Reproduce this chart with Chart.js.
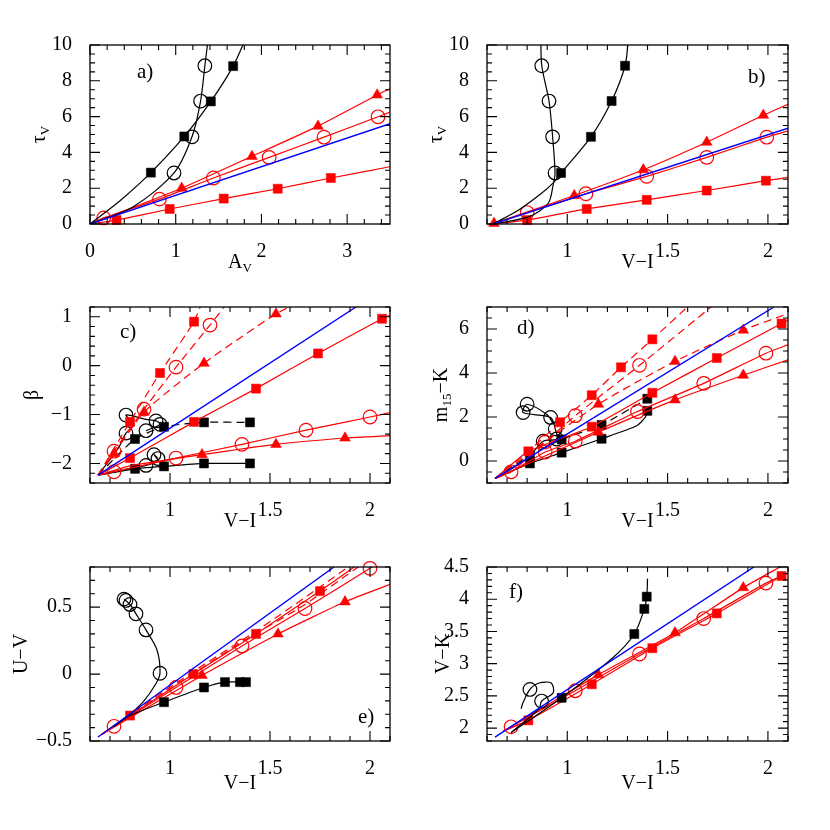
<!DOCTYPE html>
<html>
<head>
<meta charset="utf-8">
<script src="https://cdn.jsdelivr.net/npm/chart.js@4.4.1/dist/chart.umd.min.js"></script>
<style>
  html, body { margin: 0; padding: 0; background: #fff; }
  #wrap { position: relative; width: 830px; height: 830px; }
  canvas { position: absolute; }
</style>
</head>
<body>
<div id="wrap"></div>
<script>
const RED = '#ff0000', BLK = '#000000', BLU = '#0000ff';
const FONT = '"Liberation Serif", "Times New Roman", serif';

/* ---------- tick labels ---------- */
const avTicks = [0, 1, 2, 3];
const tauTicks = [0, 2, 4, 6, 8, 10];
const viTicks = [1, 1.5, 2];
const betaTicks = [-2, -1, 0, 1];
const m15Ticks = [0, 2, 4, 6];
const uvTicks = [-0.5, 0, 0.5];
const vkTicks = [2, 2.5, 3, 3.5, 4, 4.5];

/* ---------- a) tau_V vs A_V ---------- */
const aBlue = [[0, 0], [3.5, 5.6]];
const aBlkSqLine = [[0, 0], [0.35, 1.3], [0.71, 2.87], [1.10, 4.89], [1.41, 6.85], [1.67, 8.82], [1.82, 10.4]];
const aBlkSq = [[0.71, 2.87], [1.10, 4.89], [1.41, 6.85], [1.67, 8.82]];
const aBlkCiLine = [[0, 0], [0.5, 0.95], [0.98, 2.85], [1.19, 4.87], [1.29, 6.87], [1.34, 8.84], [1.38, 10.4]];
const aBlkCi = [[0.98, 2.85], [1.19, 4.87], [1.29, 6.87], [1.34, 8.84]];
const aRedTrLine = [[0, 0], [1.07, 2.0], [1.89, 3.78], [2.66, 5.47], [3.35, 7.21], [3.5, 7.55]];
const aRedTr = [[1.07, 2.0], [1.89, 3.78], [2.66, 5.47], [3.35, 7.21]];
const aRedCiLine = [[0, 0], [0.16, 0.34], [0.81, 1.39], [1.44, 2.57], [2.09, 3.72], [2.73, 4.85], [3.36, 5.99], [3.5, 6.25]];
const aRedCi = [[0.16, 0.34], [0.81, 1.39], [1.44, 2.57], [2.09, 3.72], [2.73, 4.85], [3.36, 5.99]];
const aRedSqLine = [[0, 0], [0.31, 0.22], [0.93, 0.84], [1.56, 1.42], [2.19, 1.97], [2.81, 2.57], [3.5, 3.2]];
const aRedSq = [[0.31, 0.22], [0.93, 0.84], [1.56, 1.42], [2.19, 1.97], [2.81, 2.57]];

/* ---------- b) tau_V vs V-I ---------- */
const bBlue = [[0.63, 0], [2.1, 5.35]];
const bBlkCiLine = [[0.63, 0], [0.81, 0.41], [0.905, 1.16], [0.93, 2.2], [0.939, 2.85], [0.927, 4.87], [0.909, 6.87], [0.873, 8.84], [0.868, 10.4]];
const bBlkCi = [[0.939, 2.85], [0.927, 4.87], [0.909, 6.87], [0.873, 8.84]];
const bBlkSqLine = [[0.63, 0], [0.76, 0.8], [0.87, 1.7], [0.93, 2.3], [0.969, 2.85], [1.118, 4.87], [1.221, 6.87], [1.288, 8.84], [1.305, 10.4]];
const bBlkSq = [[0.969, 2.85], [1.118, 4.87], [1.221, 6.87], [1.288, 8.84]];
const bRedTrLine = [[0.635, 0.04], [1.035, 1.59], [1.379, 3.03], [1.695, 4.57], [1.977, 6.08], [2.1, 6.69]];
const bRedTr = [[0.635, 0.04], [1.035, 1.59], [1.379, 3.03], [1.695, 4.57], [1.977, 6.08]];
const bRedCiLine = [[0.63, 0], [0.80, 0.64], [1.093, 1.69], [1.396, 2.66], [1.695, 3.72], [1.994, 4.85], [2.1, 5.2]];
const bRedCi = [[0.80, 0.64], [1.093, 1.69], [1.396, 2.66], [1.695, 3.72], [1.994, 4.85]];
const bRedSqLine = [[0.63, 0], [0.80, 0.22], [1.097, 0.84], [1.396, 1.35], [1.695, 1.87], [1.99, 2.42], [2.1, 2.6]];
const bRedSq = [[0.80, 0.22], [1.097, 0.84], [1.396, 1.35], [1.695, 1.87], [1.99, 2.42]];

/* ---------- c) beta vs V-I ---------- */
const cBlue = [[0.64, -2.24], [1.93, 1.2]];
const cRedSqLine = [[0.64, -2.24], [0.80, -1.89], [1.12, -1.15], [1.43, -0.47], [1.74, 0.25], [2.06, 0.96], [2.1, 1.03]];
const cRedSq = [[0.80, -1.89], [1.12, -1.15], [1.43, -0.47], [1.74, 0.25], [2.06, 0.96]];
const cRedCiLine = [[0.64, -2.24], [0.72, -2.17], [1.03, -1.89], [1.36, -1.61], [1.68, -1.32], [2.0, -1.05], [2.1, -0.96]];
const cRedCi = [[0.72, -2.17], [1.03, -1.89], [1.36, -1.61], [1.68, -1.32], [2.0, -1.05]];
const cRedTrLine = [[0.64, -2.24], [0.8, -2.05], [1.16, -1.82], [1.53, -1.61], [1.875, -1.48], [2.1, -1.43]];
const cRedTr = [[1.16, -1.82], [1.53, -1.61], [1.875, -1.48]];
const cRedSqDashLine = [[0.64, -2.24], [0.80, -1.15], [0.95, -0.15], [1.12, 0.9], [1.16, 1.3]];
const cRedSqDash = [[0.80, -1.15], [0.95, -0.15], [1.12, 0.9]];
const cRedCiDashLine = [[0.64, -2.24], [0.72, -1.75], [0.87, -0.89], [1.03, -0.03], [1.2, 0.83], [1.29, 1.3]];
const cRedCiDash = [[0.72, -1.75], [0.87, -0.89], [1.03, -0.03], [1.2, 0.83]];
const cRedTrDashLine = [[0.64, -2.24], [0.72, -1.8], [0.87, -0.95], [1.17, 0.05], [1.53, 1.06], [1.65, 1.3]];
const cRedTrDash = [[0.72, -1.8], [0.87, -0.95], [1.17, 0.05], [1.53, 1.06]];
const cBlkSqLine = [[0.64, -2.24], [0.825, -2.11], [0.97, -2.06], [1.17, -2.0], [1.40, -2.0]];
const cBlkSq = [[0.825, -2.11], [0.97, -2.06], [1.17, -2.0], [1.40, -2.0]];
const cBlkSqDashLine = [[0.64, -2.24], [0.825, -1.5], [0.97, -1.25], [1.17, -1.16], [1.40, -1.16]];
const cBlkSqDash = [[0.825, -1.5], [0.97, -1.25], [1.17, -1.16], [1.40, -1.16]];
const cBlkCiLine = [[0.64, -2.24], [0.8, -2.1], [0.88, -2.04], [0.94, -1.95], [0.92, -1.82], [0.94, -1.9]];
const cBlkCi = [[0.88, -2.04], [0.92, -1.82], [0.94, -1.9]];
const cBlkCi2Line = [[0.64, -2.24], [0.74, -1.7], [0.78, -1.38], [0.82, -1.2], [0.78, -1.01], [0.88, -1.1], [0.93, -1.13], [0.95, -1.2], [0.88, -1.33]];
const cBlkCi2 = [[0.78, -1.38], [0.78, -1.01], [0.93, -1.13], [0.95, -1.2], [0.88, -1.33]];

/* ---------- d) m15-K vs V-I ---------- */
const dBlue = [[0.64, -0.79], [2.03, 7.0]];
const dRedSqLine = [[0.64, -0.79], [0.806, 0.44], [1.122, 1.56], [1.424, 3.10], [1.745, 4.68], [2.068, 6.25], [2.1, 6.4]];
const dRedSq = [[0.806, 0.44], [1.122, 1.56], [1.424, 3.10], [1.745, 4.68], [2.068, 6.25]];
const dRedSqDashLine = [[0.64, -0.79], [0.806, 0.44], [0.964, 1.76], [1.122, 2.99], [1.268, 4.26], [1.424, 5.53], [1.61, 7.1]];
const dRedSqDash = [[0.964, 1.76], [1.122, 2.99], [1.268, 4.26], [1.424, 5.53]];
const dRedCiLine = [[0.64, -0.79], [0.72, -0.49], [0.89, 0.41], [1.04, 0.90], [1.35, 2.25], [1.68, 3.53], [1.99, 4.90], [2.1, 5.28]];
const dRedCi = [[0.72, -0.49], [0.89, 0.41], [1.04, 0.90], [1.35, 2.25], [1.68, 3.53], [1.99, 4.90]];
const dRedCiDashLine = [[0.64, -0.79], [0.72, -0.49], [0.89, 0.86], [1.04, 2.06], [1.36, 4.35], [1.73, 7.1]];
const dRedCiDash = [[0.89, 0.86], [1.04, 2.06], [1.36, 4.35]];
const dRedTrLine = [[0.64, -0.79], [1.155, 1.31], [1.537, 2.78], [1.877, 3.90], [2.1, 4.6]];
const dRedTr = [[1.155, 1.31], [1.537, 2.78], [1.877, 3.90]];
const dRedTrDashLine = [[0.64, -0.79], [1.155, 2.58], [1.537, 4.53], [1.877, 5.95], [2.1, 6.7]];
const dRedTrDash = [[1.155, 2.58], [1.537, 4.53], [1.877, 5.95]];
const dBlkSqLine = [[0.64, -0.79], [0.814, -0.11], [0.972, 0.38], [1.171, 1.01], [1.346, 1.6], [1.39, 2.0], [1.399, 2.28]];
const dBlkSq = [[0.814, -0.11], [0.972, 0.38], [1.171, 1.01], [1.399, 2.28]];
const dBlkSqDashLine = [[0.64, -0.79], [0.814, 0.26], [0.972, 0.98], [1.171, 1.64], [1.399, 2.83]];
const dBlkSqDash = [[0.814, 0.26], [0.972, 0.98], [1.171, 1.64], [1.399, 2.83]];
const dBlkCiLine = [[0.64, -0.79], [0.8, 0.1], [0.88, 0.9], [0.947, 1.0], [0.94, 1.46], [0.917, 1.98], [0.78, 2.2], [0.80, 2.58], [0.9, 2.1], [0.93, 1.7]];
const dBlkCi = [[0.88, 0.9], [0.947, 1.0], [0.94, 1.46], [0.917, 1.98], [0.78, 2.2], [0.80, 2.58]];

/* ---------- e) U-V vs V-I ---------- */
const eBlue = [[0.64, -0.47], [1.82, 0.8]];
const eBlkCiLine = [[0.72, -0.39], [0.8, -0.3], [0.87, -0.2], [0.93, -0.07], [0.95, 0.006], [0.935, 0.18], [0.88, 0.33], [0.83, 0.45], [0.80, 0.52], [0.77, 0.56]];
const eBlkCi = [[0.95, 0.006], [0.88, 0.33], [0.83, 0.45], [0.80, 0.52], [0.78, 0.55], [0.77, 0.56]];
const eBlkSqLine = [[0.72, -0.39], [0.8, -0.31], [0.97, -0.21], [1.17, -0.10], [1.275, -0.06], [1.38, -0.06]];
const eBlkSq = [[0.97, -0.21], [1.17, -0.10], [1.275, -0.06], [1.35, -0.06], [1.38, -0.06]];
const eRedCiLine = [[0.66, -0.45], [0.72, -0.39], [1.03, -0.10], [1.36, 0.21], [1.675, 0.49], [2.0, 0.79], [2.02, 0.81]];
const eRedCi = [[0.72, -0.39], [1.03, -0.10], [1.36, 0.21], [1.675, 0.49], [2.0, 0.79]];
const eRedSqLine = [[0.66, -0.45], [0.8, -0.31], [1.117, 0.0], [1.43, 0.30], [1.75, 0.62], [1.93, 0.81]];
const eRedSq = [[0.8, -0.31], [1.117, 0.0], [1.43, 0.30], [1.75, 0.62]];
const eRedTrLine = [[0.66, -0.45], [1.16, -0.01], [1.54, 0.30], [1.875, 0.54], [2.1, 0.67]];
const eRedTr = [[1.16, -0.01], [1.54, 0.30], [1.875, 0.54]];
const eRedSqDashLine = [[0.66, -0.45], [0.8, -0.3], [1.117, 0.02], [1.43, 0.32], [1.75, 0.65], [1.9, 0.81]];
const eRedCiDashLine = [[0.66, -0.45], [1.03, -0.08], [1.36, 0.24], [1.675, 0.52], [1.95, 0.81]];

/* ---------- f) V-K vs V-I ---------- */
const fBlue = [[0.64, 1.86], [1.93, 4.5]];
const fBlkSqLine = [[0.72, 1.93], [0.972, 2.47], [1.23, 3.1], [1.334, 3.46], [1.384, 3.85], [1.396, 4.04], [1.40, 4.32]];
const fBlkSq = [[0.972, 2.47], [1.334, 3.46], [1.384, 3.85], [1.396, 4.04]];
const fBlkCiLine = [[0.72, 1.93], [0.86, 2.3], [0.872, 2.42], [0.93, 2.55], [0.92, 2.7], [0.86, 2.7], [0.814, 2.6], [0.78, 2.4], [0.77, 2.3]];
const fBlkCi = [[0.814, 2.6], [0.872, 2.42]];
const fRedCiLine = [[0.68, 1.95], [0.72, 2.02], [1.04, 2.58], [1.36, 3.15], [1.68, 3.70], [1.99, 4.25], [2.1, 4.4]];
const fRedCi = [[0.72, 2.02], [1.04, 2.58], [1.36, 3.15], [1.68, 3.70], [1.99, 4.25]];
const fRedSqLine = [[0.68, 1.95], [0.806, 2.12], [1.122, 2.68], [1.424, 3.24], [1.745, 3.78], [2.068, 4.36], [2.1, 4.4]];
const fRedSq = [[0.806, 2.12], [1.122, 2.68], [1.424, 3.24], [1.745, 3.78], [2.068, 4.36]];
const fRedTrLine = [[0.68, 1.95], [1.155, 2.83], [1.537, 3.48], [1.877, 4.18], [2.06, 4.5]];
const fRedTr = [[1.155, 2.83], [1.537, 3.48], [1.877, 4.18]];

/* ---------- helpers ---------- */
const toXY = a => a.map(([x, y]) => ({ x, y }));

function curve(pts, color, dash, tension = 0.3) {
    return {
        data: toXY(pts), showLine: true, borderColor: color,
        borderWidth: color === BLU ? 1.4 : 1.2, borderDash: dash ? [8, 5] : [],
        pointRadius: 0, tension, fill: false
    };
}

function marks(pts, color, shape) {
    const open = shape === 'circle';
    return {
        data: toXY(pts), showLine: false, clip: false,
        pointStyle: shape,
        pointRadius: shape === 'rect' ? 6.4 : shape === 'circle' ? 6.8 : 6.2,
        pointBackgroundColor: open ? 'rgba(0,0,0,0)' : color,
        pointBorderColor: color,
        pointBorderWidth: open ? 1.2 : 0.5
    };
}

function drawParts(ctx, parts, cx, cy, rot, size) {
    ctx.save();
    ctx.translate(cx, cy);
    if (rot) ctx.rotate(-Math.PI / 2);
    const fonts = parts.map(p => (p[1] ? Math.round(size * 0.65) : size) + 'px ' + FONT);
    let w = 0;
    parts.forEach((p, i) => { ctx.font = fonts[i]; w += ctx.measureText(p[0]).width; });
    let x = -w / 2;
    ctx.fillStyle = '#000';
    ctx.textBaseline = 'middle';
    ctx.textAlign = 'left';
    parts.forEach((p, i) => {
        ctx.font = fonts[i];
        ctx.fillText(p[0], x, p[1] ? size * 0.3 : 0);
        x += ctx.measureText(p[0]).width;
    });
    ctx.restore();
}

const fmt = v => String(v).replace('-', '\u2212');

/* ---------- panels ---------- */
const panels = [
    {
        canvas: [0, 0, 415, 285], frame: [90, 45, 390, 224],
        x: [0, 3.5, avTicks, 0.2], y: [0, 10, tauTicks, 0.5],
        xTitle: [['A', 0], ['V', 1]], yTitle: [['\u03c4', 0], ['V', 1]], yTitleDx: -50, xTitleDy: 39,
        label: 'a)', labelAt: [47, 27],
        series: [
            curve(aBlue, BLU, false, 0),
            curve(aBlkSqLine, BLK, false), marks(aBlkSq, BLK, 'rect'),
            curve(aBlkCiLine, BLK, false), marks(aBlkCi, BLK, 'circle'),
            curve(aRedTrLine, RED, false, 0.15), marks(aRedTr, RED, 'triangle'),
            curve(aRedCiLine, RED, false, 0.15), marks(aRedCi, RED, 'circle'),
            curve(aRedSqLine, RED, false, 0.15), marks(aRedSq, RED, 'rect')
        ]
    },
    {
        canvas: [415, 0, 415, 285], frame: [487, 45, 788, 224],
        x: [0.6, 2.1, viTicks, 0.1], y: [0, 10, tauTicks, 0.5],
        xTitle: [['V\u2212I', 0]], yTitle: [['\u03c4', 0], ['V', 1]], yTitleDx: -50, xTitleDy: 39,
        label: 'b)', labelAt: [261, 32],
        series: [
            curve(bBlue, BLU, false, 0),
            curve(bBlkCiLine, BLK, false), marks(bBlkCi, BLK, 'circle'),
            curve(bBlkSqLine, BLK, false), marks(bBlkSq, BLK, 'rect'),
            curve(bRedTrLine, RED, false, 0.15), marks(bRedTr, RED, 'triangle'),
            curve(bRedCiLine, RED, false, 0.15), marks(bRedCi, RED, 'circle'),
            curve(bRedSqLine, RED, false, 0.15), marks(bRedSq, RED, 'rect')
        ]
    },
    {
        canvas: [0, 285, 415, 260], frame: [90, 305, 390, 483],
        x: [0.6, 2.1, viTicks, 0.1], y: [-2.4, 1.2, betaTicks, 0.2],
        xTitle: [['V\u2212I', 0]], yTitle: [['\u03b2', 0]], yTitleDx: -57, xTitleDy: 39,
        label: 'c)', labelAt: [30, 25],
        series: [
            curve(cBlue, BLU, false, 0),
            curve(cRedSqLine, RED, false, 0.15), marks(cRedSq, RED, 'rect'),
            curve(cRedCiLine, RED, false, 0.15), marks(cRedCi, RED, 'circle'),
            curve(cRedTrLine, RED, false, 0.15), marks(cRedTr, RED, 'triangle'),
            curve(cRedSqDashLine, RED, true, 0.2), marks(cRedSqDash, RED, 'rect'),
            curve(cRedCiDashLine, RED, true, 0.2), marks(cRedCiDash, RED, 'circle'),
            curve(cRedTrDashLine, RED, true, 0.2), marks(cRedTrDash, RED, 'triangle'),
            curve(cBlkSqLine, BLK, false, 0.2), marks(cBlkSq, BLK, 'rect'),
            curve(cBlkSqDashLine, BLK, true, 0.2), marks(cBlkSqDash, BLK, 'rect'),
            curve(cBlkCiLine, BLK, false), marks(cBlkCi, BLK, 'circle'),
            curve(cBlkCi2Line, BLK, false), marks(cBlkCi2, BLK, 'circle')
        ]
    },
    {
        canvas: [415, 285, 415, 260], frame: [487, 305, 788, 483],
        x: [0.6, 2.1, viTicks, 0.1], y: [-1, 7, m15Ticks, 0.5],
        xTitle: [['V\u2212I', 0]], yTitle: [['m', 0], ['15', 1], ['\u2212K', 0]], yTitleDx: -45, xTitleDy: 39,
        label: 'd)', labelAt: [30, 21],
        series: [
            curve(dBlue, BLU, false, 0),
            curve(dRedSqLine, RED, false, 0.15), marks(dRedSq, RED, 'rect'),
            curve(dRedSqDashLine, RED, true, 0.2), marks(dRedSqDash, RED, 'rect'),
            curve(dRedCiLine, RED, false, 0.15), marks(dRedCi, RED, 'circle'),
            curve(dRedCiDashLine, RED, true, 0.2), marks(dRedCiDash, RED, 'circle'),
            curve(dRedTrLine, RED, false, 0.15), marks(dRedTr, RED, 'triangle'),
            curve(dRedTrDashLine, RED, true, 0.2), marks(dRedTrDash, RED, 'triangle'),
            curve(dBlkSqLine, BLK, false, 0.2), marks(dBlkSq, BLK, 'rect'),
            curve(dBlkSqDashLine, BLK, true, 0.2), marks(dBlkSqDash, BLK, 'rect'),
            curve(dBlkCiLine, BLK, false), marks(dBlkCi, BLK, 'circle')
        ]
    },
    {
        canvas: [0, 545, 415, 285], frame: [90, 563, 390, 741],
        x: [0.6, 2.1, viTicks, 0.1], y: [-0.5, 0.8, uvTicks, 0.1],
        xTitle: [['V\u2212I', 0]], yTitle: [['U\u2212V', 0]], yTitleDx: -68, xTitleDy: 43,
        label: 'e)', labelAt: [268, 150],
        series: [
            curve(eBlue, BLU, false, 0),
            curve(eBlkCiLine, BLK, false), marks(eBlkCi, BLK, 'circle'),
            curve(eBlkSqLine, BLK, false), marks(eBlkSq, BLK, 'rect'),
            curve(eRedSqDashLine, RED, true, 0.15),
            curve(eRedCiDashLine, RED, true, 0.15),
            curve(eRedCiLine, RED, false, 0.15), marks(eRedCi, RED, 'circle'),
            curve(eRedSqLine, RED, false, 0.15), marks(eRedSq, RED, 'rect'),
            curve(eRedTrLine, RED, false, 0.15), marks(eRedTr, RED, 'triangle')
        ]
    },
    {
        canvas: [415, 545, 415, 285], frame: [487, 563, 788, 741],
        x: [0.6, 2.1, viTicks, 0.1], y: [1.8, 4.5, vkTicks, 0.1],
        xTitle: [['V\u2212I', 0]], yTitle: [['V\u2212K', 0]], yTitleDx: -43, xTitleDy: 43,
        label: 'f)', labelAt: [22, 25],
        series: [
            curve(fBlue, BLU, false, 0),
            curve(fBlkSqLine, BLK, false), marks(fBlkSq, BLK, 'rect'),
            curve(fBlkCiLine, BLK, false), marks(fBlkCi, BLK, 'circle'),
            curve(fRedCiLine, RED, false, 0.15), marks(fRedCi, RED, 'circle'),
            curve(fRedSqLine, RED, false, 0.15), marks(fRedSq, RED, 'rect'),
            curve(fRedTrLine, RED, false, 0.15), marks(fRedTr, RED, 'triangle')
        ]
    }
];

const YW = 60, XH = 40;
const wrap = document.getElementById('wrap');

panels.forEach(p => {
    const [cl, ct, cw, chh] = p.canvas;
    const [fl, ft, fr, fb] = p.frame;
    const cv = document.createElement('canvas');
    cv.width = cw; cv.height = chh;
    cv.style.left = cl + 'px'; cv.style.top = ct + 'px';
    wrap.appendChild(cv);

    const deco = {
        id: 'deco',
        afterDraw(chart) {
            const { ctx, chartArea: ca, scales } = chart;
            ctx.save();
            ctx.strokeStyle = '#000';
            ctx.lineWidth = 1.3;
            ctx.strokeRect(ca.left, ca.top, ca.right - ca.left, ca.bottom - ca.top);
            ctx.lineWidth = 1.1;
            const axis = (scale, step, majors, horiz) => {
                const n0 = Math.ceil(scale.min / step - 1e-6);
                const n1 = Math.floor(scale.max / step + 1e-6);
                for (let n = n0; n <= n1; n++) {
                    const v = n * step;
                    const maj = majors.some(m => Math.abs(m - v) < 1e-6);
                    const len = maj ? 10 : 5;
                    const q = scale.getPixelForValue(v);
                    ctx.beginPath();
                    if (horiz) {
                        ctx.moveTo(q, ca.bottom); ctx.lineTo(q, ca.bottom - len);
                        ctx.moveTo(q, ca.top); ctx.lineTo(q, ca.top + len);
                    } else {
                        ctx.moveTo(ca.left, q); ctx.lineTo(ca.left + len, q);
                        ctx.moveTo(ca.right, q); ctx.lineTo(ca.right - len, q);
                    }
                    ctx.stroke();
                }
            };
            axis(scales.x, p.x[3], p.x[2], true);
            axis(scales.y, p.y[3], p.y[2], false);
            ctx.restore();
            drawParts(ctx, p.xTitle, (ca.left + ca.right) / 2, ca.bottom + p.xTitleDy, false, 20);
            drawParts(ctx, p.yTitle, ca.left + p.yTitleDx, (ca.top + ca.bottom) / 2, true, 20);
            ctx.save();
            ctx.font = '21px ' + FONT;
            ctx.fillStyle = '#000';
            ctx.textAlign = 'left';
            ctx.textBaseline = 'middle';
            ctx.fillText(p.label, ca.left + p.labelAt[0], ca.top + p.labelAt[1]);
            ctx.restore();
        }
    };

    const tickOpts = (vals, pad) => ({
        autoSkip: false, maxRotation: 0, padding: pad, color: '#000',
        font: { family: FONT, size: 20 },
        callback: v => fmt(v)
    });

    new Chart(cv.getContext('2d'), {
        type: 'scatter',
        data: { datasets: p.series },
        options: {
            responsive: false, animation: false, events: [],
            layout: { padding: { left: fl - cl - YW, top: ft - ct, right: cl + cw - fr, bottom: ct + chh - fb - XH } },
            plugins: { legend: { display: false }, tooltip: { enabled: false } },
            scales: {
                x: {
                    type: 'linear', min: p.x[0], max: p.x[1],
                    grid: { display: false }, border: { display: false },
                    ticks: tickOpts(p.x[2], 8),
                    afterBuildTicks: s => { s.ticks = p.x[2].map(v => ({ value: v })); },
                    afterFit: s => { s.height = XH; }
                },
                y: {
                    type: 'linear', min: p.y[0], max: p.y[1],
                    grid: { display: false }, border: { display: false },
                    ticks: tickOpts(p.y[2], 10),
                    afterBuildTicks: s => { s.ticks = p.y[2].map(v => ({ value: v })); },
                    afterFit: s => { s.width = YW; }
                }
            }
        },
        plugins: [deco]
    });
});
</script>
</body>
</html>
